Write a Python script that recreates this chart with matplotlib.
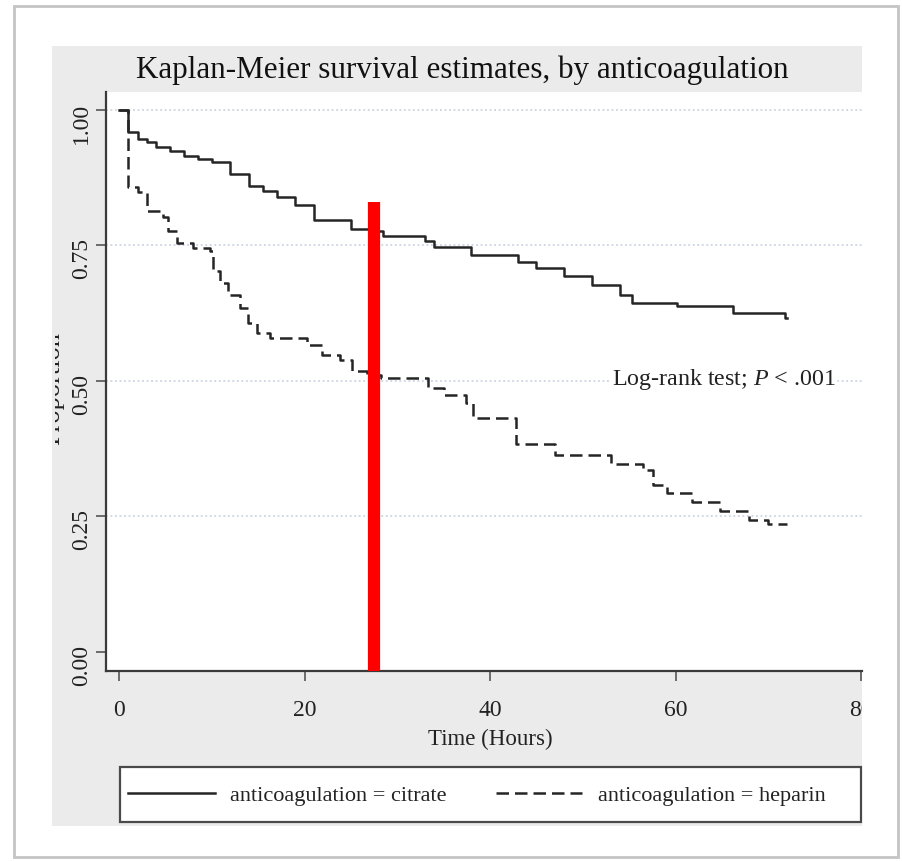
import numpy as np
import matplotlib
matplotlib.use('Agg')
import matplotlib.pyplot as plt
from matplotlib.patches import Rectangle
from matplotlib.transforms import Bbox, TransformedBbox
from matplotlib.ticker import FormatStrFormatter

# --- data ------------------------------------------

citrate_time = [0, 1.0, 2.0, 3.0, 4.0, 5.5, 7.0, 8.5, 10.0, 12.0, 14.0, 15.5, 17.0, 19.0, 21.0,
                25.0, 27.0, 28.5, 33.0, 34.0, 38.0, 43.0, 45.0, 48.0, 51.0, 54.0, 55.3,
                60.2, 66.2, 71.8, 72.0]
citrate_surv = [1.0, 0.960, 0.947, 0.940, 0.932, 0.925, 0.915, 0.910, 0.904, 0.882, 0.860, 0.850,
                0.840, 0.824, 0.796, 0.781, 0.776, 0.768, 0.759, 0.748, 0.732, 0.720, 0.708,
                0.693, 0.677, 0.658, 0.643, 0.638, 0.625, 0.617, 0.617]

heparin_time = [0, 1.0, 2.0, 3.0, 4.7, 5.3, 6.3, 8.0, 9.8, 10.1, 10.9, 11.7, 13.0, 13.9, 14.9,
                16.3, 20.3, 21.9, 23.8, 25.1, 26.7, 28.2, 33.3, 35.0, 37.4, 38.2, 42.8, 47.0,
                53.0, 56.5, 57.6, 59.1, 61.8, 64.8, 67.9, 70.0, 72.0]
heparin_surv = [1.0, 0.857, 0.849, 0.814, 0.803, 0.776, 0.754, 0.745, 0.739, 0.702, 0.680, 0.658,
                0.634, 0.607, 0.588, 0.579, 0.566, 0.548, 0.539, 0.518, 0.511, 0.505, 0.487,
                0.474, 0.460, 0.432, 0.383, 0.364, 0.346, 0.335, 0.309, 0.294, 0.276, 0.261,
                0.244, 0.237, 0.237]

group_labels = ['anticoagulation = citrate', 'anticoagulation = heparin']
x_ticks = [0, 20, 40, 60, 80]
y_ticks = [0.0, 0.25, 0.50, 0.75, 1.00]

# red marker bar drawn over the chart
marker_time = 27.5
marker_top = 0.830

# --- figure ---------------------

W, H = 903, 862

def fx(px):
	return px / W

def fy(py):
	return 1 - py / H

plt.rcParams['font.family'] = ['Liberation Serif', 'DejaVu Serif']
plt.rcParams['mathtext.fontset'] = 'custom'
plt.rcParams['mathtext.rm'] = 'Liberation Serif'
plt.rcParams['mathtext.it'] = 'Liberation Serif:italic'

fig = plt.figure(figsize=(W / 100, H / 100), dpi=100)
fig.patch.set_facecolor('white')

# outer frame and stata-like grey background
fig.patches.append(Rectangle((fx(14), fy(858)), fx(898) - fx(14), fy(7) - fy(858),
	transform=fig.transFigure, facecolor='white', edgecolor='#c4c4c4', lw=2.0, zorder=-3))
fig.patches.append(Rectangle((fx(52), fy(827)), fx(862) - fx(52), fy(47) - fy(827),
	transform=fig.transFigure, facecolor='#ebebeb', edgecolor='none', zorder=-2))

ax = fig.add_axes([fx(106), fy(672), fx(862) - fx(106), fy(93) - fy(672)])
ax.set_facecolor('white')

line_c, = ax.step(citrate_time, citrate_surv, where='post',
	color='#252525', lw=1.8, label=group_labels[0], zorder=3)
line_h, = ax.step(heparin_time, heparin_surv, where='post',
	color='#252525', lw=1.8, ls=(0, (5, 2.4)), label=group_labels[1], zorder=3)

ax.vlines(marker_time, -0.04, marker_top, colors='#ff0000', lw=8.8, zorder=6)

ax.set_xlim(-1.4, 80.1)
ax.set_ylim(-0.035, 1.033)
ax.set_xticks(x_ticks)
ax.set_yticks(y_ticks)
ax.yaxis.set_major_formatter(FormatStrFormatter('%.2f'))

for side in ['top', 'right']:
	ax.spines[side].set_visible(False)
for side in ['left', 'bottom']:
	ax.spines[side].set_color('#3a3a3a')
	ax.spines[side].set_linewidth(1.6)

ax.tick_params(direction='out', length=7, width=1.2, color='#555555',
	labelsize=17, labelcolor='#222222')
ax.tick_params(axis='x', pad=13)
ax.tick_params(axis='y', labelrotation=90, pad=3)

ax.grid(axis='y', color='#cdd3e2', lw=1.3, ls=(0, (1, 1.5)))
ax.yaxis.get_gridlines()[0].set_visible(False)
ax.set_axisbelow(True)

clip_right = TransformedBbox(Bbox.from_extents(0, 0, fx(862), 1), fig.transFigure)
for tk in ax.xaxis.get_major_ticks():
	tk.label1.set_clip_box(clip_right)
	tk.label1.set_clip_on(True)

ax.set_xlabel('Time (Hours)', fontsize=16.5, color='#222222')
ax.xaxis.set_label_coords((490 - 106) / 756, (672 - 729) / 579)

ylab = ax.set_ylabel('Proportion', fontsize=19, color='#222222')
ax.yaxis.set_label_coords((64 - 106) / 756, 0.49)
ylab.set_clip_box(TransformedBbox(Bbox.from_extents(fx(55), 0, 1, 1), fig.transFigure))
ylab.set_clip_on(True)

ax.text(53.1, 0.505, r'Log-rank test; $P$ < .001', fontsize=17.3, color='#222222',
	ha='left', va='center', zorder=4,
	bbox=dict(facecolor='white', edgecolor='none', pad=1))

fig.text(fx(462), fy(70), 'Kaplan-Meier survival estimates, by anticoagulation',
	fontsize=22.4, color='#111111', ha='center', va='center')

# legend box
fig.patches.append(Rectangle((fx(120), fy(823)), fx(861) - fx(120), fy(768) - fy(823),
	transform=fig.transFigure, facecolor='white', edgecolor='#4a4a4a', lw=1.6, zorder=1))
fig.legend(handles=[line_c, line_h], labels=group_labels, loc='center left',
	bbox_to_anchor=(fx(128), fy(796)), ncol=2, frameon=False, fontsize=16,
	handlelength=3.9, handletextpad=0.7, columnspacing=2.2,
	borderpad=0, borderaxespad=0, labelcolor='#222222')

fig.savefig('out.png', dpi=100)
